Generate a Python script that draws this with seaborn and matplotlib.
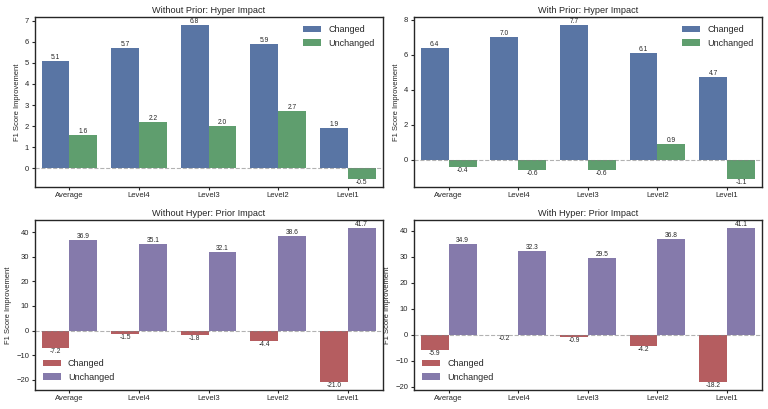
import pandas as pd
import numpy as np
import matplotlib
matplotlib.use("Agg")
import matplotlib.pyplot as plt
import seaborn as sb

levels = ["Average", "Level4", "Level3", "Level2", "Level1"]

# top row: hyper impact
no_prior_changed = [5.1, 5.7, 6.8, 5.9, 1.9]
no_prior_unchanged = [1.6, 2.2, 2.0, 2.7, -0.5]
prior_changed = [6.4, 7.0, 7.7, 6.1, 4.7]
prior_unchanged = [-0.4, -0.6, -0.6, 0.9, -1.1]

# bottom row: prior impact
no_hyper_changed = [-7.2, -1.5, -1.8, -4.4, -21.0]
no_hyper_unchanged = [36.9, 35.1, 32.1, 38.6, 41.7]
hyper_changed = [-5.9, -0.2, -0.9, -4.2, -18.2]
hyper_unchanged = [34.9, 32.3, 29.5, 36.8, 41.1]

sb.set_theme(style="ticks")
plt.rcParams["font.family"] = ["Liberation Sans", "DejaVu Sans"]
deep = sb.color_palette("deep")

panels = [
    ("Without Prior: Hyper Impact", no_prior_changed, no_prior_unchanged, [deep[0], deep[2]], "upper right"),
    ("With Prior: Hyper Impact", prior_changed, prior_unchanged, [deep[0], deep[2]], "upper right"),
    ("Without Hyper: Prior Impact", no_hyper_changed, no_hyper_unchanged, [deep[3], deep[4]], "lower left"),
    ("With Hyper: Prior Impact", hyper_changed, hyper_unchanged, [deep[3], deep[4]], "lower left"),
]

fig, axes = plt.subplots(2, 2, figsize=(7.68, 4.09), dpi=100)

for ax, (title, ch, un, cols, loc) in zip(axes.flat, panels):
    df = pd.DataFrame({
        "Level": levels * 2,
        "Value": ch + un,
        "Type": ["Changed"] * 5 + ["Unchanged"] * 5,
    })
    sb.barplot(data=df, x="Level", y="Value", hue="Type", palette=cols, ax=ax,
               saturation=0.75, linewidth=0, edgecolor="none")
    for cont in ax.containers:
        ax.bar_label(cont, fmt="%.1f", fontsize=4.8, padding=0)
    ax.axhline(0, color="gray", linestyle="--", linewidth=0.8, alpha=0.6)
    ax.set_title(title, fontsize=6.6, pad=3)
    ax.set_xlabel("")
    ax.set_ylabel("F1 Score Improvement", fontsize=5.5, labelpad=3)
    ax.tick_params(labelsize=5.5, length=2.5, width=0.8, pad=1.5)
    for s in ax.spines.values():
        s.set_linewidth(1.0)
    ax.legend(loc=loc, fontsize=6.5, frameon=False, title=None)

plt.subplots_adjust(left=0.045, right=0.992, top=0.958, bottom=0.047, wspace=0.09, hspace=0.2)
plt.savefig("out.png", dpi=100)
